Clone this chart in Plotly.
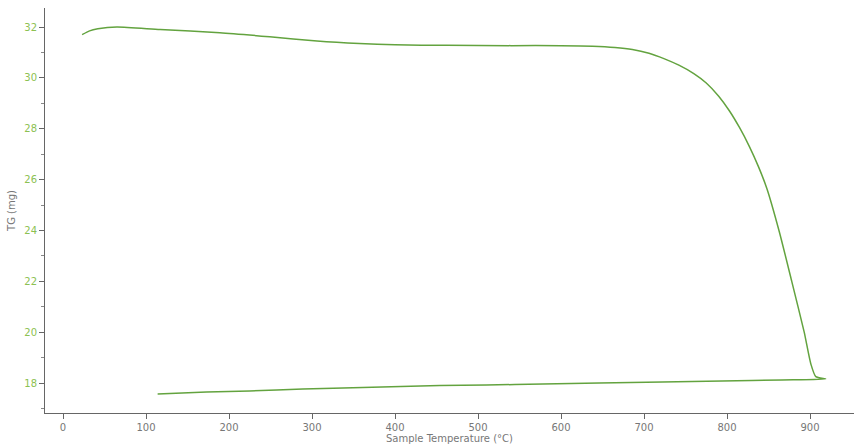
import plotly.graph_objects as go

# Thermogravimetric trace: heating run followed by the return segment
temperature_c = [23, 32, 42, 65, 117, 189, 249, 306, 357, 400, 462, 540, 600, 638,
                 665, 686, 706, 724, 742, 760, 775, 790, 803, 815, 827, 838, 848, 863,
                 878, 893, 901, 907, 919,
                 866, 794, 722, 646, 578, 510, 454, 361, 289, 225, 173, 114]
tg_mg = [31.70, 31.85, 31.93, 32.00, 31.90, 31.78, 31.62, 31.45, 31.35, 31.30, 31.28,
         31.27, 31.27, 31.25, 31.20, 31.12, 30.97, 30.76, 30.50, 30.17, 29.80, 29.28,
         28.70, 28.05, 27.30, 26.50, 25.65, 23.95, 22.00, 20.00, 18.75, 18.25, 18.16,
         18.12, 18.08, 18.04, 18.00, 17.96, 17.92, 17.90, 17.82, 17.76, 17.69, 17.65,
         17.57]

x_ticks = [0, 100, 200, 300, 400, 500, 600, 700, 800, 900]
y_ticks = [18, 20, 22, 24, 26, 28, 30, 32]

fig = go.Figure(
    go.Scatter(
        x=temperature_c,
        y=tg_mg,
        mode="lines",
        line=dict(color="#63a33f", width=1.5, shape="spline", smoothing=0.6),
        showlegend=False,
    )
)

fig.update_layout(
    width=856,
    height=448,
    margin=dict(l=45, r=2, t=8, b=35),
    paper_bgcolor="white",
    plot_bgcolor="white",
    font=dict(family="DejaVu Sans", size=10, color="#777777"),
)

fig.update_xaxes(
    range=[-21.7, 953],
    tickvals=x_ticks,
    ticktext=[str(v) for v in x_ticks],
    ticks="outside",
    ticklen=5,
    tickcolor="#666666",
    showline=True,
    linecolor="#666666",
    linewidth=1,
    showgrid=False,
    zeroline=False,
    tickfont=dict(size=10, color="#777777"),
    title=dict(text="Sample Temperature (°C)", font=dict(size=10, color="#777777"), standoff=2),
)

fig.update_yaxes(
    range=[16.82, 32.75],
    tickvals=y_ticks,
    ticktext=[str(v) for v in y_ticks],
    ticks="outside",
    ticklen=5,
    tickcolor="#666666",
    minor=dict(dtick=1, tick0=17, ticks="outside", ticklen=3, tickcolor="#888888"),
    showline=True,
    linecolor="#666666",
    linewidth=1,
    showgrid=False,
    zeroline=False,
    tickfont=dict(size=10, color="#8cc152"),
    title=dict(text="TG (mg)", font=dict(size=10, color="#777777"), standoff=6),
)

fig.write_html("out.html")
